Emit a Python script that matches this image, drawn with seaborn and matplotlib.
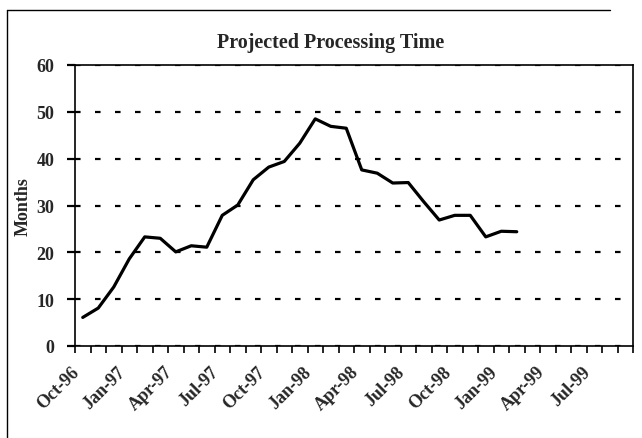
import matplotlib
matplotlib.use("Agg")
import matplotlib.pyplot as plt
from matplotlib.lines import Line2D
import pandas as pd
import seaborn as sns

# monthly categories Oct-96 .. Sep-99, labelled every third month
months = pd.date_range("1996-10-01", "1999-09-01", freq="MS")
tick_labels = ["Oct-96", "Jan-97", "Apr-97", "Jul-97", "Oct-97", "Jan-98",
               "Apr-98", "Jul-98", "Oct-98", "Jan-99", "Apr-99", "Jul-99"]

# projected processing time (months), Oct-96 .. Feb-99
processing_time = [6.1, 8.1, 12.6, 18.6, 23.3, 23.0, 20.1, 21.4, 21.1, 27.9,
                   30.1, 35.5, 38.2, 39.4, 43.3, 48.5, 46.9, 46.5, 37.6, 36.9,
                   34.8, 34.9, 30.8, 26.9, 27.9, 27.9, 23.3, 24.5, 24.4]

df = pd.DataFrame({
    "idx": range(len(processing_time)),
    "Months": processing_time,
})

sns.set_style("white")
plt.rcParams["font.family"] = ["Liberation Serif", "DejaVu Serif"]
plt.rcParams["font.weight"] = "bold"

fig = plt.figure(figsize=(6.42, 4.39), dpi=100)
ax = fig.add_axes([75 / 642, 1 - 347 / 439, 558 / 642, 281 / 439])

sns.lineplot(data=df, x="idx", y="Months", color="black", linewidth=2.3, ax=ax, zorder=3)

ax.set_xlim(-0.5, len(months) - 0.5)
ax.set_ylim(0, 60)
ax.set_yticks(range(0, 61, 10))

# tick marks between categories, labels on every third category
ax.set_xticks([i - 0.5 for i in range(len(months) + 1)])
ax.set_xticklabels([])
ax.set_xticks(list(range(0, len(months), 3)), minor=True)
ax.set_xticklabels(tick_labels, minor=True, rotation=45, ha="right", va="top")
ax.tick_params(axis="x", which="major", direction="out", length=5, width=1.2,
               color="black", bottom=True)
ax.tick_params(axis="x", which="minor", length=0, pad=12, labelsize=13)
ax.tick_params(axis="y", direction="out", length=6, width=1.6, color="black",
               left=True, pad=9, labelsize=13)

ax.grid(axis="y", color="black", linestyle=(0, (2.5, 6.5)), linewidth=1.6)
ax.grid(axis="x", visible=False)
for s in ax.spines.values():
    s.set_color("black")
    s.set_linewidth(1.2)

ax.set_xlabel("")
ax.set_ylabel("Months", fontsize=13, fontweight="bold", labelpad=3)

fig.text(331 / 642, 1 - 48 / 439, "Projected Processing Time", ha="center",
         va="baseline", fontsize=14.5, fontweight="bold")

# chart area frame (left and top edges)
fig.add_artist(Line2D([7 / 642, 7 / 642], [0, 1 - 11 / 439], color="black", lw=1,
                      transform=fig.transFigure))
fig.add_artist(Line2D([7 / 642, 610 / 642], [1 - 11 / 439, 1 - 11 / 439],
                      color="black", lw=1, transform=fig.transFigure))

fig.savefig("out.png", dpi=100)
